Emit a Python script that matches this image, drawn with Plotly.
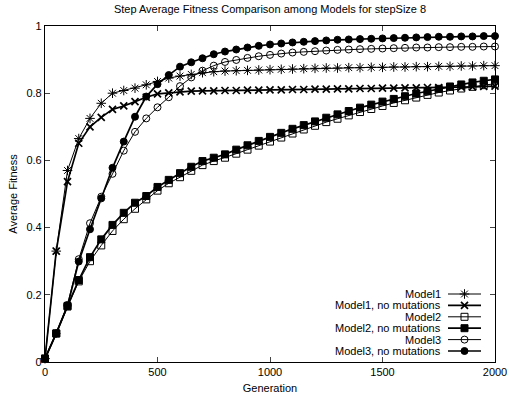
import plotly.graph_objects as go

generations = list(range(0, 2001, 50))

model1 = [0.01, 0.33, 0.57, 0.665, 0.725, 0.77, 0.80, 0.808, 0.815, 0.825, 0.835,
          0.845, 0.851, 0.856, 0.861, 0.864, 0.866, 0.867, 0.868, 0.869, 0.870,
          0.871, 0.872, 0.873, 0.874, 0.875, 0.875, 0.876, 0.876, 0.877, 0.877,
          0.878, 0.878, 0.879, 0.879, 0.880, 0.880, 0.881, 0.881, 0.882, 0.882]

model1_nm = [0.01, 0.33, 0.537, 0.651, 0.70, 0.728, 0.752, 0.762, 0.775, 0.788, 0.798,
             0.801, 0.804, 0.806, 0.807, 0.807, 0.808, 0.808, 0.809, 0.809, 0.810,
             0.810, 0.811, 0.811, 0.812, 0.812, 0.813, 0.813, 0.814, 0.814, 0.815,
             0.815, 0.816, 0.816, 0.817, 0.817, 0.818, 0.818, 0.819, 0.820, 0.821]

model2 = [0.01, 0.085, 0.165, 0.24, 0.30, 0.347, 0.39, 0.425, 0.456, 0.484, 0.51,
          0.532, 0.55, 0.569, 0.586, 0.598, 0.608, 0.62, 0.632, 0.644, 0.656,
          0.668, 0.68, 0.692, 0.703, 0.714, 0.724, 0.734, 0.744, 0.753, 0.762,
          0.771, 0.779, 0.787, 0.795, 0.802, 0.808, 0.814, 0.819, 0.824, 0.828]

model2_nm = [0.01, 0.085, 0.167, 0.244, 0.312, 0.365, 0.408, 0.444, 0.474, 0.494, 0.521,
             0.542, 0.562, 0.581, 0.598, 0.608, 0.618, 0.632, 0.645, 0.658, 0.670,
             0.682, 0.694, 0.705, 0.716, 0.727, 0.737, 0.747, 0.757, 0.766, 0.775,
             0.783, 0.791, 0.799, 0.806, 0.813, 0.820, 0.826, 0.832, 0.837, 0.841]

model3 = [0.01, 0.085, 0.17, 0.306, 0.413, 0.492, 0.56, 0.629, 0.685, 0.725, 0.758,
          0.788, 0.821, 0.847, 0.867, 0.882, 0.893, 0.899, 0.905, 0.910, 0.914,
          0.918, 0.921, 0.923, 0.925, 0.927, 0.929, 0.930, 0.931, 0.932, 0.933,
          0.934, 0.935, 0.936, 0.936, 0.937, 0.937, 0.938, 0.938, 0.939, 0.939]

model3_nm = [0.01, 0.085, 0.167, 0.299, 0.395, 0.487, 0.578, 0.656, 0.730, 0.790, 0.827,
             0.854, 0.879, 0.892, 0.904, 0.916, 0.924, 0.930, 0.936, 0.941, 0.945,
             0.948, 0.951, 0.953, 0.955, 0.957, 0.959, 0.960, 0.961, 0.962, 0.963,
             0.964, 0.965, 0.966, 0.967, 0.968, 0.968, 0.969, 0.969, 0.970, 0.970]

names = ["Model1", "Model1, no mutations", "Model2", "Model2, no mutations",
         "Model3", "Model3, no mutations"]
series = [model1, model1_nm, model2, model2_nm, model3, model3_nm]

x_ticks = [0, 500, 1000, 1500, 2000]
y_ticks = [0, 0.2, 0.4, 0.6, 0.8, 1]
y_tick_text = ["0", "0.2", "0.4", "0.6", "0.8", "1"]

styles = [
    dict(symbol="asterisk-open", size=8, lw=1.0, mlw=1.0),
    dict(symbol="x-thin-open", size=7, lw=1.7, mlw=1.7),
    dict(symbol="square-open", size=7, lw=1.0, mlw=1.0),
    dict(symbol="square", size=7, lw=1.7, mlw=1.0),
    dict(symbol="circle-open", size=7, lw=1.0, mlw=1.0),
    dict(symbol="circle", size=7, lw=1.7, mlw=1.0),
]

FONT = "Liberation Sans, Arial, Helvetica, sans-serif"
fig = go.Figure()

for name, vals, st in zip(names, series, styles):
    fig.add_trace(go.Scatter(
        x=generations, y=vals, mode="lines+markers", name=name, showlegend=False,
        line=dict(color="black", width=st["lw"]),
        marker=dict(symbol=st["symbol"], size=st["size"], color="black",
                    line=dict(color="black", width=st["mlw"])),
        cliponaxis=False,
    ))

# gnuplot-style legend (text on the left, key on the right), drawn on a helper axis
L_W, L_H = 450.0, 336.0
key_x0, key_x1, key_xm = (448 - 45) / L_W, (481 - 45) / L_W, (464.5 - 45) / L_W
text_x = (443 - 45) / L_W
row0, row_step = 294.0, 11.4
for i, (name, st) in enumerate(zip(names, styles)):
    yy = (362 - (row0 + i * row_step)) / L_H
    fig.add_trace(go.Scatter(
        x=[key_x0, key_x1], y=[yy, yy], mode="lines", xaxis="x2", yaxis="y2",
        showlegend=False, hoverinfo="skip",
        line=dict(color="black", width=st["lw"])))
    fig.add_trace(go.Scatter(
        x=[key_xm], y=[yy], mode="markers", xaxis="x2", yaxis="y2",
        showlegend=False, hoverinfo="skip",
        marker=dict(symbol=st["symbol"], size=st["size"], color="black",
                    line=dict(color="black", width=st["mlw"]))))
    fig.add_annotation(x=text_x, y=yy, xref="x2", yref="y2", text=name,
                       showarrow=False, xanchor="right", yanchor="middle",
                       font=dict(family=FONT, size=11, color="black"))

fig.update_layout(
    width=509, height=400,
    margin=dict(l=45, r=14, t=26, b=38, autoexpand=False),
    paper_bgcolor="white", plot_bgcolor="white",
    font=dict(family=FONT, size=11, color="black"),
    title=dict(text="Step Average Fitness Comparison among Models for stepSize 8",
               x=0.5, xref="paper", xanchor="center", y=1 - 9 / 400, yanchor="middle",
               font=dict(family=FONT, size=11, color="black")),
    xaxis=dict(range=[0, 2000], tickvals=x_ticks, ticks="inside", ticklen=5,
               showline=True, linecolor="black", linewidth=1.2, mirror="ticks",
               showgrid=False, zeroline=False, automargin=False,
               title=dict(text="Generation", standoff=7, font=dict(size=11))),
    yaxis=dict(range=[0, 1], tickvals=y_ticks, ticktext=y_tick_text, ticks="inside",
               ticklen=5, showline=True, linecolor="black", linewidth=1.2, mirror="ticks",
               showgrid=False, zeroline=False, automargin=False,
               title=dict(text="Average Fitness", standoff=6, font=dict(size=11))),
    xaxis2=dict(range=[0, 1], overlaying="x", anchor="y2", visible=False, fixedrange=True),
    yaxis2=dict(range=[0, 1], overlaying="y", anchor="x2", visible=False, fixedrange=True),
)

fig.write_html("out.html")
